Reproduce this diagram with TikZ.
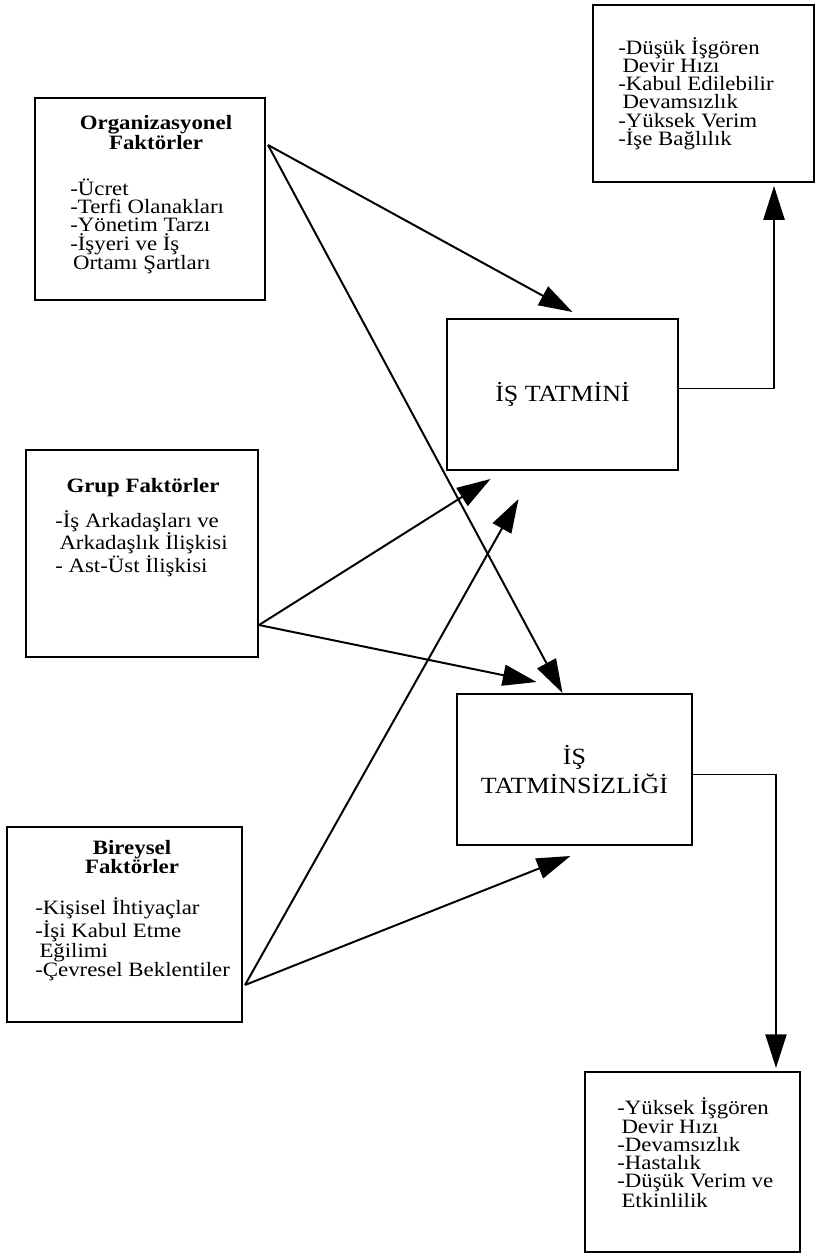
\documentclass[tikz,border=0pt]{standalone}
\usepackage{fontspec}
\setmainfont{Liberation Serif}[FakeStretch=1.12]
\usetikzlibrary{arrows.meta,calc}

\begin{document}
\begin{tikzpicture}[
    x=0.025cm, y=-0.025cm,
    box/.style={rectangle,draw,line width=1.4pt,inner sep=0pt},
    head/.style={align=center,inner sep=0pt,font=\bfseries\fontsize{14.5}{14.2}\selectfont},
    items/.style={align=left,anchor=west,inner sep=0pt,font=\fontsize{14.5}{13}\selectfont},
    big/.style={align=center,font=\fontsize{16.5}{20}\selectfont},
    arr/.style={line width=1.4pt,-{Triangle[length=24pt,width=15pt]}}
    ]
    \useasboundingbox (0,0) rectangle (817,1259);

    % factor boxes:
    \node (org) at (150,199) [box,minimum width=5.75cm,minimum height=5.05cm] {};
    \node (grup) at (142,553.5) [box,minimum width=5.8cm,minimum height=5.175cm] {};
    \node (birey) at (124.5,924.5) [box,minimum width=5.875cm,minimum height=4.875cm] {};

    \node (orgh) at (156,133) [head] {Organizasyonel\\Faktörler};
    \node (orgl) at (70,226.5) [items] {-Ücret\\-Terfi Olanakları\\-Yönetim Tarzı\\-İşyeri ve İş\\\hspace*{2pt}Ortamı Şartları};
    \node (gruph) at (143,488) [head] {Grup Faktörler};
    \node (grupl) at (55,543.5) [items] {-İş Arkadaşları ve\\\hspace*{3pt}Arkadaşlık İlişkisi\\- Ast-Üst İlişkisi};
    \node (bireyh) at (132,857) [head] {Bireysel\\Faktörler};
    \node (bireyl) at (35,939.5) [items] {-Kişisel İhtiyaçlar\\-İşi Kabul Etme\\\hspace*{3pt}Eğilimi\\-Çevresel Beklentiler};

    % middle boxes:
    \node (tatmin) at (562.5,394.5) [box,big,minimum width=5.775cm,minimum height=3.775cm] {İŞ TATMİNİ};
    \node (tatminsiz) at (574.5,769.5) [box,big,minimum width=5.875cm,minimum height=3.775cm] {İŞ\\TATMİNSİZLİĞİ};

    % result boxes:
    \node (sonuc1) at (703.5,93.5) [box,minimum width=5.525cm,minimum height=4.425cm] {};
    \node (sonuc2) at (692.5,1162) [box,minimum width=5.375cm,minimum height=4.5cm] {};

    \node (sonuc1l) at (618,93.5) [items] {-Düşük İşgören\\\hspace*{3pt}Devir Hızı\\-Kabul Edilebilir\\\hspace*{3pt}Devamsızlık\\-Yüksek Verim\\-İşe Bağlılık};
    \node (sonuc2l) at (617,1153) [items] {-Yüksek İşgören\\\hspace*{3pt}Devir Hızı\\-Devamsızlık\\-Hastalık\\-Düşük Verim ve\\\hspace*{3pt}Etkinlilik};

    % connections:
    \coordinate (orgout) at ($(org.north east)+(2,48)$);
    \coordinate (grupout) at ($(grup.south east)+(0,-33)$);
    \coordinate (bireyout) at ($(birey.east)+(2,60.5)$);

    \draw [arr] (orgout) -- ($(tatmin.north)+(10,-6)$);
    \draw [arr] (orgout) -- ($(tatminsiz.north)+(-12,0)$);
    \draw [arr] (grupout) -- ($(tatmin.south)+(-72,8)$);
    \draw [arr] (grupout) -- ($(tatminsiz.north)+(-38,-11)$);
    \draw [arr] (bireyout) -- ($(tatmin.south)+(-44,28)$);
    \draw [arr] (bireyout) -- ($(tatminsiz.south)+(-4,10)$);

    \draw [arr] ($(tatmin.east)+(0,-6)$) -| ($(sonuc1.south east)+(-41,3)$);
    \draw [arr] ($(tatminsiz.east)+(0,5)$) -| ($(sonuc2.north west)+(192,-3)$);

\end{tikzpicture}
\end{document}
